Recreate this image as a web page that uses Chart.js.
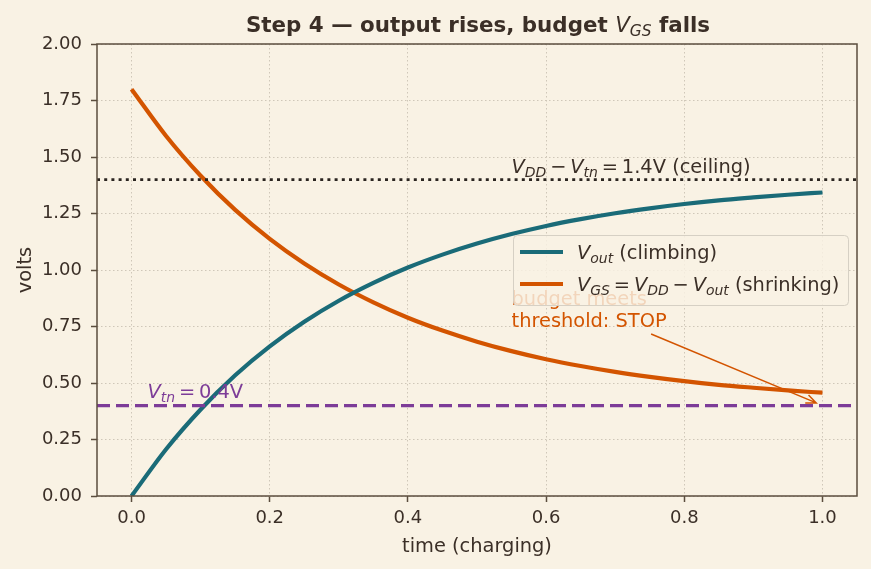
<!DOCTYPE html>
<html lang="en">
<head>
    <meta charset="UTF-8">
    <title>Step 4 — output rises, budget VGS falls</title>
    <script src="https://cdn.jsdelivr.net/npm/chart.js"></script>
    <style>
        html, body { margin: 0; padding: 0; background: #f9f2e4; }
        canvas { display: block; }
    </style>
</head>
<body>
<canvas id="myChart" width="871" height="569"></canvas>
<script>
    // time axis (charging)
    const tValues = [0, 0.05, 0.1, 0.15, 0.2, 0.25, 0.3, 0.35, 0.4, 0.45, 0.5, 0.55, 0.6, 0.65, 0.7, 0.75, 0.8, 0.85, 0.9, 0.95, 1.0];
    const voutValues = [0, 0.207, 0.383, 0.534, 0.662, 0.771, 0.864, 0.943, 1.011, 1.068, 1.117, 1.159, 1.195, 1.225, 1.251, 1.273, 1.292, 1.308, 1.321, 1.333, 1.343];
    const vgsValues = [1.8, 1.593, 1.417, 1.266, 1.138, 1.029, 0.936, 0.857, 0.789, 0.732, 0.683, 0.641, 0.605, 0.575, 0.549, 0.527, 0.508, 0.492, 0.479, 0.467, 0.457];
    const ceilingLevel = 1.4;
    const thresholdLevel = 0.4;
    const xRange = [-0.05, 1.05];
    const xTicks = [0, 0.2, 0.4, 0.6, 0.8, 1.0];
    const yTicks = [0, 0.25, 0.5, 0.75, 1.0, 1.25, 1.5, 1.75, 2.0];

    const FONT = '"DejaVu Sans", "Liberation Sans", sans-serif';
    const INK = '#3b2f27';
    const TEAL = '#1a6b78';
    const ORANGE = '#d35400';
    const PURPLE = '#7d3c98';
    const TXT = 19.4;
    const TS = '\u2009'; // thin space around math operators

    function segFont(kind, fs) {
        if (kind === 'b') return 'bold ' + fs + 'px ' + FONT;
        if (kind === 'i') return 'italic ' + fs + 'px ' + FONT;
        if (kind === 's') return 'italic ' + (fs * 0.72) + 'px ' + FONT;
        return fs + 'px ' + FONT;
    }

    function richWidth(ctx, segs, fs) {
        let w = 0;
        segs.forEach(([t, k]) => { ctx.font = segFont(k, fs); w += ctx.measureText(t).width; });
        return w;
    }

    function drawRich(ctx, segs, x, y, fs, color, align) {
        let cx = x;
        if (align === 'center') cx = x - richWidth(ctx, segs, fs) / 2;
        ctx.fillStyle = color;
        ctx.textBaseline = 'alphabetic';
        ctx.textAlign = 'left';
        segs.forEach(([t, k]) => {
            ctx.font = segFont(k, fs);
            ctx.fillText(t, cx, k === 's' ? y + fs * 0.2 : y);
            cx += ctx.measureText(t).width;
        });
    }

    const deco = {
        id: 'deco',
        beforeDraw(chart) {
            const c = chart.ctx;
            c.save();
            c.fillStyle = '#f9f2e4';
            c.fillRect(0, 0, chart.width, chart.height);
            c.restore();
        },
        afterDraw(chart) {
            const c = chart.ctx;
            const a = chart.chartArea;
            const xs = chart.scales.x, ys = chart.scales.y;
            const px = v => xs.getPixelForValue(v);
            const py = v => ys.getPixelForValue(v);
            c.save();

            // frame
            c.strokeStyle = '#5b4d3e';
            c.lineWidth = 1.5;
            c.strokeRect(a.left, a.top, a.right - a.left, a.bottom - a.top);

            // title
            drawRich(c, [['Step 4 — output rises, budget ', 'b'], ['V', 'i'], ['GS', 's'], [' falls', 'b']],
                (a.left + a.right) / 2 + 1, 32, 21.4, INK, 'center');

            // axis labels
            c.font = TXT + 'px ' + FONT;
            c.fillStyle = INK;
            c.textAlign = 'center';
            c.textBaseline = 'alphabetic';
            c.fillText('time (charging)', (a.left + a.right) / 2, 552);
            c.save();
            c.translate(31, (a.top + a.bottom) / 2);
            c.rotate(-Math.PI / 2);
            c.fillText('volts', 0, 0);
            c.restore();

            // ceiling + threshold labels
            drawRich(c, [['V', 'i'], ['DD', 's'], [TS + '−' + TS, 'n'], ['V', 'i'], ['tn', 's'], [TS + '=' + TS + '1.4V (ceiling)', 'n']],
                px(0.55), py(1.43), TXT, INK, 'left');
            drawRich(c, [['V', 'i'], ['tn', 's'], [TS + '=' + TS + '0.4V', 'n']], px(0.023), py(0.434), TXT, PURPLE, 'left');

            // annotation text + arrow
            c.font = TXT + 'px ' + FONT;
            c.fillStyle = ORANGE;
            c.textAlign = 'left';
            c.fillText('budget meets', px(0.55), py(0.847));
            c.fillText('threshold: STOP', px(0.55), py(0.75));
            const x0 = px(0.752), y0 = py(0.717), x1 = px(0.991), y1 = py(0.412);
            c.strokeStyle = ORANGE;
            c.lineWidth = 1.5;
            c.beginPath();
            c.moveTo(x0, y0);
            c.lineTo(x1, y1);
            const ang = Math.atan2(y1 - y0, x1 - x0);
            const hl = 11;
            c.moveTo(x1 - hl * Math.cos(ang - 0.4), y1 - hl * Math.sin(ang - 0.4));
            c.lineTo(x1, y1);
            c.lineTo(x1 - hl * Math.cos(ang + 0.4), y1 - hl * Math.sin(ang + 0.4));
            c.stroke();

            // legend
            const lx = 513, ly = 235, lw = 335, lh = 70;
            c.fillStyle = 'rgba(249, 242, 228, 0.82)';
            c.strokeStyle = '#d6d0c4';
            c.lineWidth = 1;
            c.beginPath();
            c.roundRect(lx + 0.5, ly + 0.5, lw, lh, 4);
            c.fill();
            c.stroke();
            const entries = [
                [TEAL, [['V', 'i'], ['out', 's'], [' (climbing)', 'n']]],
                [ORANGE, [['V', 'i'], ['GS', 's'], [TS + '=' + TS, 'n'], ['V', 'i'], ['DD', 's'], [TS + '−' + TS, 'n'], ['V', 'i'], ['out', 's'], [' (shrinking)', 'n']]]
            ];
            entries.forEach(([col, segs], i) => {
                const yy = 252 + i * 32;
                c.strokeStyle = col;
                c.lineWidth = 4.2;
                c.beginPath();
                c.moveTo(520, yy);
                c.lineTo(563, yy);
                c.stroke();
                drawRich(c, segs, 577, yy + 7, TXT, INK, 'left');
            });
            c.restore();
        }
    };

    const pts = ys => tValues.map((t, i) => ({x: t, y: ys[i]}));
    const flat = v => xRange.map(x => ({x: x, y: v}));

    const ctx = document.getElementById('myChart').getContext('2d');
    new Chart(ctx, {
        type: 'line',
        data: {
            datasets: [
                {label: 'ceiling', data: flat(ceilingLevel), borderColor: '#2b2520', borderWidth: 2.6, borderDash: [3, 4.2], pointRadius: 0},
                {label: 'Vtn', data: flat(thresholdLevel), borderColor: PURPLE, borderWidth: 3.2, borderDash: [13, 6], pointRadius: 0},
                {label: 'Vout', data: pts(voutValues), borderColor: TEAL, borderWidth: 4.2, pointRadius: 0, cubicInterpolationMode: 'monotone'},
                {label: 'VGS', data: pts(vgsValues), borderColor: ORANGE, borderWidth: 4.2, pointRadius: 0, cubicInterpolationMode: 'monotone'}
            ]
        },
        options: {
            responsive: false,
            animation: false,
            layout: {padding: {top: 44, right: 14, left: 0, bottom: 0}},
            plugins: {legend: {display: false}, title: {display: false}, tooltip: {enabled: false}},
            scales: {
                x: {
                    type: 'linear',
                    min: xRange[0],
                    max: xRange[1],
                    afterBuildTicks: s => { s.ticks = xTicks.map(v => ({value: v})); },
                    afterFit: s => { s.height = 73; },
                    ticks: {callback: v => v.toFixed(1), color: INK, font: {family: FONT, size: 18}, padding: 6, maxRotation: 0},
                    grid: {color: '#cfc7b8', lineWidth: 1, tickColor: '#5b4d3e', tickLength: 6, tickWidth: 1.5},
                    border: {display: false, dash: [1.5, 2.5]}
                },
                y: {
                    min: 0,
                    max: 2,
                    afterBuildTicks: s => { s.ticks = yTicks.map(v => ({value: v})); },
                    afterFit: s => { s.width = 97; },
                    ticks: {callback: v => v.toFixed(2), color: INK, font: {family: FONT, size: 18}, padding: 9},
                    grid: {color: '#cfc7b8', lineWidth: 1, tickColor: '#5b4d3e', tickLength: 6, tickWidth: 1.5},
                    border: {display: false, dash: [1.5, 2.5]}
                }
            }
        },
        plugins: [deco]
    });
</script>
</body>
</html>
